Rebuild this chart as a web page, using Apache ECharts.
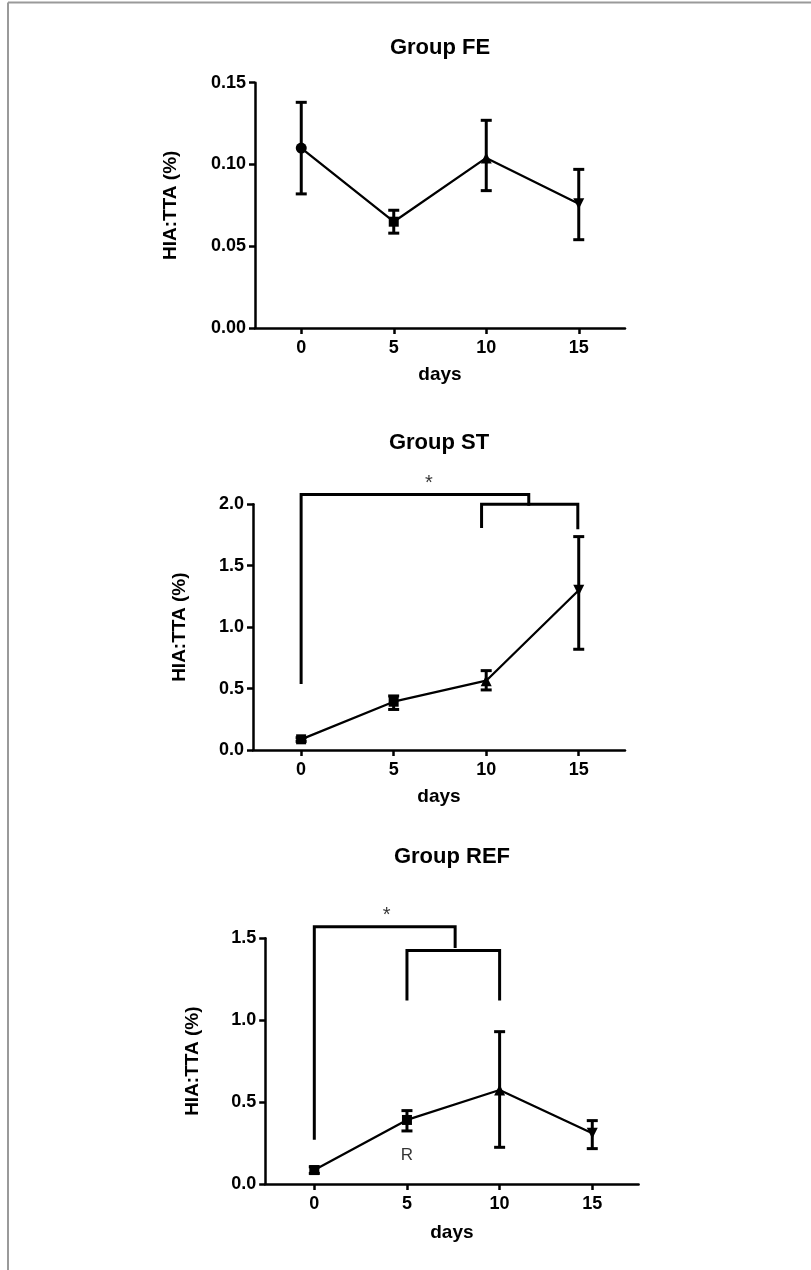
<!DOCTYPE html>
<html>
<head>
<meta charset="utf-8">
<script src="https://cdn.jsdelivr.net/npm/echarts@6/dist/echarts.min.js"></script>
<style>
html,body{margin:0;padding:0;background:#fff;}
#c{width:811px;height:1270px;}
</style>
</head>
<body>
<div id="c"></div>
<script>
// ---- data ----
const days = [0, 5, 10, 15];
const xTicks = [0, 5, 10, 15];

const feMean = [0.110, 0.065, 0.104, 0.076];
const feLow  = [0.082, 0.058, 0.084, 0.054];
const feHigh = [0.138, 0.072, 0.127, 0.097];

const stMean = [0.087, 0.393, 0.564, 1.30];
const stLow  = [0.070, 0.330, 0.489, 0.82];
const stHigh = [0.100, 0.440, 0.646, 1.737];

const refMean = [0.085, 0.391, 0.574, 0.310];
const refLow  = [0.065, 0.324, 0.224, 0.216];
const refHigh = [0.105, 0.448, 0.930, 0.387];

// brackets: [xLeft, yLeftEnd, yTop, xRight, yRightEnd]
const stBrackets  = [[0, 0.55, 2.08, 12.3, 2.0], [9.75, 1.82, 2.0, 14.95, 1.81]];
const refBrackets = [[0, 0.28, 1.57, 7.6, 1.45], [5, 1.13, 1.425, 10, 1.13]];
const stStar  = [6.9, 2.17];
const refStar = [3.9, 1.64];
const refR    = [5, 0.177];

const titles = ['Group FE', 'Group ST', 'Group REF'];
const yName = 'HIA:TTA (%)';
const xName = 'days';

// ---- styles ----
const FONT = 'Arial, "Liberation Sans", sans-serif';
const symFE  = ['circle', 'rect', 'triangle', 'path://M0,0 L10,0 L5,9 Z'];
const symST  = ['rect', 'rect', 'triangle', 'path://M0,0 L10,0 L5,9 Z'];
const symREF = ['rect', 'rect', 'triangle', 'path://M0,0 L10,0 L5,9 Z'];

const grids = [
  {left: 255, top: 82.7, width: 370, height: 245.3},
  {left: 253, top: 504.3, width: 372, height: 245.7},
  {left: 265.2, top: 938.3, width: 373.4, height: 245.7}
];
const xMins = [-2.5, -2.6, -2.65];
const yMaxs = [0.15, 2.0, 1.5];
const yIntervals = [0.05, 0.5, 0.5];
const yDecimals = [2, 1, 1];
const yNameGaps = [75, 64, 63];
const xNameGaps = [37, 37, 39];

function xAxisCfg(i) {
  return {
    gridIndex: i, type: 'value', min: xMins[i], max: 17.5,
    name: xName, nameLocation: 'middle', nameGap: xNameGaps[i],
    nameTextStyle: {fontFamily: FONT, fontWeight: 'bold', fontSize: 19, color: '#000'},
    axisLine: {onZero: false, lineStyle: {color: '#000', width: 2.5}},
    axisTick: {show: true, inside: false, length: 6, customValues: xTicks, lineStyle: {color: '#000', width: 2.5}},
    axisLabel: {customValues: xTicks, margin: 11, fontFamily: FONT, fontWeight: 'bold', fontSize: 18, color: '#000'},
    splitLine: {show: false}
  };
}
function yAxisCfg(i) {
  return {
    gridIndex: i, type: 'value', min: 0, max: yMaxs[i], interval: yIntervals[i],
    name: yName, nameLocation: 'middle', nameGap: yNameGaps[i], nameRotate: 90,
    nameTextStyle: {fontFamily: FONT, fontWeight: 'bold', fontSize: 19, color: '#000'},
    axisLine: {show: true, onZero: false, lineStyle: {color: '#000', width: 2.5}},
    axisTick: {show: true, inside: false, length: 6, lineStyle: {color: '#000', width: 2.5}},
    axisLabel: {margin: 9, fontFamily: FONT, fontWeight: 'bold', fontSize: 18, color: '#000',
      formatter: v => v.toFixed(yDecimals[i])},
    splitLine: {show: false}
  };
}

function lineSeries(i, mean, syms) {
  return {
    type: 'line', xAxisIndex: i, yAxisIndex: i, clip: false,
    data: days.map((d, k) => ({value: [d, mean[k]], symbol: syms[k],
      symbolSize: syms[k] === 'circle' ? 11 : (syms[k] === 'rect' ? 10 : 11)})),
    lineStyle: {color: '#000', width: 2.3},
    itemStyle: {color: '#000'},
    z: 5
  };
}
function errSeries(i, lo, hi) {
  return {
    type: 'custom', xAxisIndex: i, yAxisIndex: i, clip: false,
    data: days.map((d, k) => [d, lo[k], hi[k]]),
    encode: {x: 0, y: [1, 2]},
    renderItem: function (params, api) {
      const x = api.value(0);
      const pLo = api.coord([x, api.value(1)]);
      const pHi = api.coord([x, api.value(2)]);
      const hw = 5.5;
      const st = {stroke: '#000', lineWidth: 3};
      return {type: 'group', children: [
        {type: 'line', shape: {x1: pLo[0], y1: pLo[1], x2: pHi[0], y2: pHi[1]}, style: st},
        {type: 'line', shape: {x1: pLo[0] - hw, y1: pLo[1], x2: pLo[0] + hw, y2: pLo[1]}, style: st},
        {type: 'line', shape: {x1: pHi[0] - hw, y1: pHi[1], x2: pHi[0] + hw, y2: pHi[1]}, style: st}
      ]};
    },
    z: 4
  };
}
function bracketSeries(i, brackets) {
  return brackets.map(b => ({
    type: 'line', xAxisIndex: i, yAxisIndex: i, clip: false, symbol: 'none',
    data: [[b[0], b[1]], [b[0], b[2]], [b[3], b[2]], [b[3], b[4]]],
    lineStyle: {color: '#000', width: 3, cap: 'square', join: 'miter'},
    z: 3
  }));
}
function textSeries(i, pt, txt, size) {
  return {
    type: 'scatter', xAxisIndex: i, yAxisIndex: i, clip: false,
    symbolSize: 0, data: [pt],
    label: {show: true, position: 'inside', formatter: txt,
      fontFamily: FONT, fontSize: size, color: '#000'},
    z: 6
  };
}

const series = [
  errSeries(0, feLow, feHigh), lineSeries(0, feMean, symFE),
  errSeries(1, stLow, stHigh), lineSeries(1, stMean, symST),
  ...bracketSeries(1, stBrackets), textSeries(1, stStar, '*', 20),
  errSeries(2, refLow, refHigh), lineSeries(2, refMean, symREF),
  ...bracketSeries(2, refBrackets), textSeries(2, refStar, '*', 20),
  textSeries(2, refR, 'R', 17)
];

const titlePos = [[440, 48], [439, 443], [452, 857]];
const graphic = [
  {type: 'line', shape: {x1: 8, y1: 2.5, x2: 811, y2: 2.5}, style: {stroke: '#9a9a9a', lineWidth: 2}},
  {type: 'line', shape: {x1: 8, y1: 2.5, x2: 8, y2: 1270}, style: {stroke: '#9a9a9a', lineWidth: 2}}
].concat(titles.map((t, i) => ({
  type: 'text', x: titlePos[i][0], y: titlePos[i][1],
  style: {text: t, fontFamily: FONT, fontWeight: 'bold', fontSize: 22, fill: '#000',
    align: 'center', verticalAlign: 'middle'}
})));

const chart = echarts.init(document.getElementById('c'), null, {renderer: 'canvas'});
chart.setOption({
  animation: false,
  backgroundColor: '#fff',
  grid: grids,
  xAxis: [0, 1, 2].map(xAxisCfg),
  yAxis: [0, 1, 2].map(yAxisCfg),
  series: series,
  graphic: graphic
});
</script>
</body>
</html>
